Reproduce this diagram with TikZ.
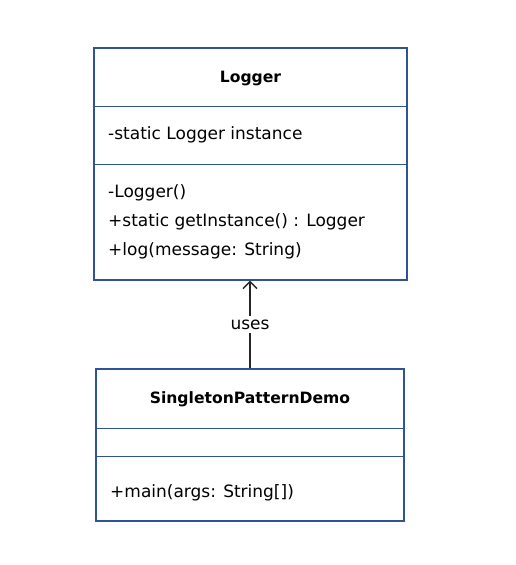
\documentclass[tikz,border=0pt]{standalone}
\usepackage{fontspec}
\setmainfont{DejaVu Sans}
\usepackage{tikz}
\usetikzlibrary{arrows.meta, positioning}

\definecolor{umlblue}{RGB}{47,84,150}

\begin{document}
\begin{tikzpicture}[
  x=1pt, y=-1pt,
  classbox/.style={draw=umlblue, line width=1.2pt, minimum width=#1, inner sep=0pt},
  title/.style={font=\fontsize{15.6}{18}\selectfont\bfseries, text=black},
  member/.style={anchor=west, font=\fontsize{17}{20}\selectfont, text=black, inner sep=0pt},
  arrow/.style={-{Straight Barb[length=7pt, width=14pt]}, line width=1.4pt, draw=black!85}
]
\useasboundingbox (0,0) rectangle (515,565);

% Logger class
\node[classbox=313pt, minimum height=232pt] (logger) at (250.5,164) {};
\draw[umlblue, line width=0.9pt] (94,106) -- (407,106);
\draw[umlblue, line width=0.9pt] (94,164) -- (407,164);
\node[title] (loggername) at (250.5,78) {Logger};
\node[member] (inst) at (108,135) {-static Logger instance};
\node[member] (ctor) at (108,193) {-Logger()};
\node[member] (getinst) at (108,222) {+static getInstance() : Logger};
\node[member] (logm) at (108,251) {+log(message: String)};

% SingletonPatternDemo class
\node[classbox=308pt, minimum height=152pt] (demo) at (250,445) {};
\draw[umlblue, line width=0.9pt] (96,428) -- (404,428);
\draw[umlblue, line width=0.9pt] (96,456) -- (404,456);
\node[title] (demoname) at (250,399) {SingletonPatternDemo};
\node[member] (mainm) at (110,493) {+main(args: String[])};

% dependency
\draw[arrow] (demo.north) -- (demo.north |- logger.south)
  node[midway, fill=white, inner sep=4pt, font=\fontsize{17}{20}\selectfont, text=black] (uses) {uses};
\end{tikzpicture}
\end{document}
